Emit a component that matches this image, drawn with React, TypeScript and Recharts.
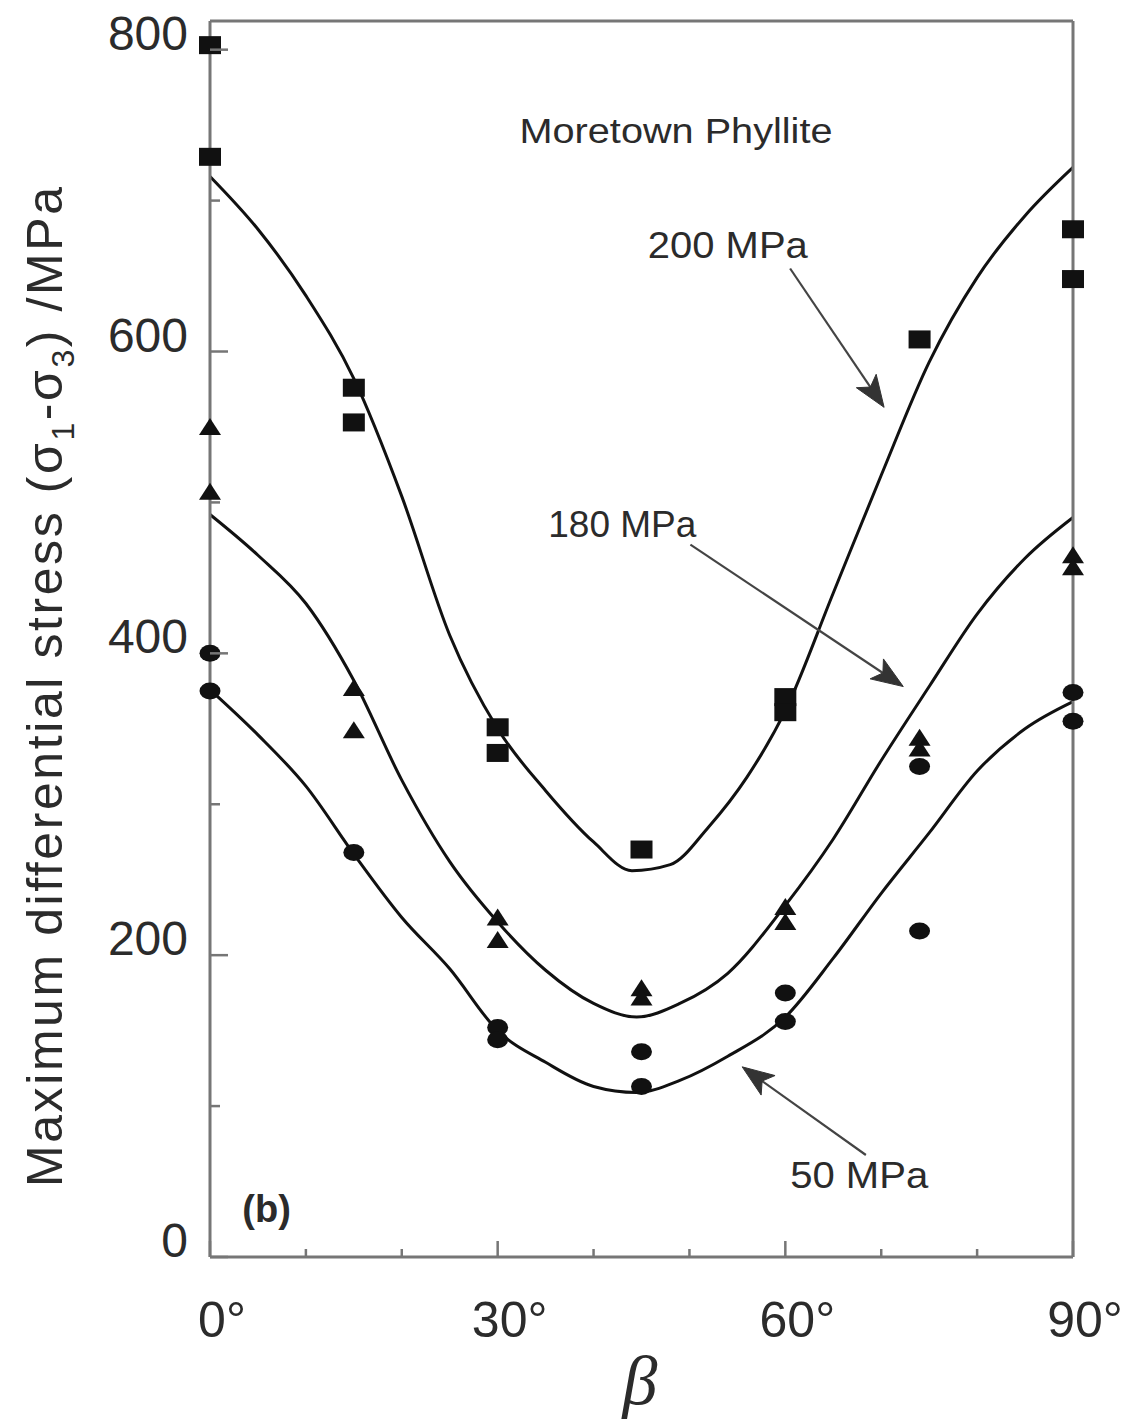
import React from "react";
import {
    ComposedChart,
    Line,
    Scatter,
    XAxis,
    YAxis,
    ReferenceDot,
    ReferenceLine,
} from "recharts";

// tick positions
const xTicks = [0, 10, 20, 30, 40, 50, 60, 70, 80, 90];
const yTicks = [0, 100, 200, 300, 400, 500, 600, 700, 800];

// measured points, 200 MPa (squares)
const sq200Deg = [0, 0, 15, 15, 30, 30, 45, 60, 60, 74, 90, 90];
const sq200Val = [803, 729, 576, 553, 351, 334, 270, 371, 361, 608, 681, 648];

// measured points, 180 MPa (triangles)
const tri180Deg = [0, 0, 15, 15, 30, 30, 45, 45, 60, 60, 74, 74, 90, 90];
const tri180Val = [550, 507, 377, 349, 225, 210, 178, 172, 232, 222, 344, 337, 465, 457];

// measured points, 50 MPa (circles)
const dot50Deg = [0, 0, 15, 30, 30, 45, 45, 60, 60, 74, 74, 90, 90];
const dot50Val = [400, 375, 268, 152, 144, 136, 113, 175, 156, 325, 216, 374, 355];

// fitted curves
const fit200Deg = [0, 5, 10, 15, 20, 25, 30, 35, 40, 44, 48, 52, 56, 60, 65, 70, 75, 80, 85, 90];
const fit200Val = [716, 681, 637, 582, 504, 412, 350, 309, 275, 256, 260, 285, 318, 362, 440, 518, 593, 649, 690, 722];

const fit180Deg = [0, 5, 10, 15, 20, 25, 30, 35, 40, 44.5, 49, 54, 60, 65, 70, 75, 80, 85, 90];
const fit180Val = [492, 465, 433, 382, 316, 262, 222, 190, 168, 159, 168, 188, 233, 277, 329, 378, 426, 463, 490];

const fit50Deg = [0, 5, 10, 15, 20, 25, 30, 35, 40, 44.5, 49, 54, 60, 65, 70, 75, 80, 85, 90];
const fit50Val = [376, 346, 312, 267, 225, 191, 150, 129, 113, 109, 117, 133, 159, 198, 241, 281, 322, 350, 368];

const zip = (deg: number[], val: number[]) => deg.map((d, i) => ({ deg: d, val: val[i] }));

const AXIS = "#767676";
const INK = "#111";
const TXT = "#2b2b2b";
const SANS = "'Liberation Sans', Arial, Helvetica, sans-serif";

const BottomTick = ({ x, y, payload }: any) => {
    const v = payload.value as number;
    const major = v % 30 === 0;
    return (
        <g>
            <line x1={x} y1={y} x2={x} y2={y - (major ? 16 : 8)} stroke={AXIS} strokeWidth={2.5} />
            {major && (
                <text x={x + 12} y={y + 80} textAnchor="middle" fontSize={50} fill={TXT} fontFamily={SANS}>
                    {`${v}°`}
                </text>
            )}
        </g>
    );
};

const TopTick = ({ x, y, payload }: any) => {
    const major = payload.value % 30 === 0;
    return <line x1={x} y1={y} x2={x} y2={y + (major ? 16 : 8)} stroke={AXIS} strokeWidth={2.5} />;
};

const LeftTick = ({ x, y, payload }: any) => {
    const v = payload.value as number;
    const major = v % 200 === 0;
    return (
        <g>
            <line x1={x} y1={y} x2={x + (major ? 18 : 10)} y2={y} stroke={AXIS} strokeWidth={2.5} />
            {major && (
                <text x={x - 22} y={y} textAnchor="end" fontSize={48} fill={TXT} fontFamily={SANS}>
                    {v}
                </text>
            )}
        </g>
    );
};

const RightTick = ({ x, y, payload }: any) => {
    const major = payload.value % 200 === 0;
    return <line x1={x} y1={y} x2={x - (major ? 18 : 10)} y2={y} stroke={AXIS} strokeWidth={2.5} />;
};

const YTitle = () => (
    <text
        transform="rotate(-90)"
        x={-687}
        y={62}
        textAnchor="middle"
        fontSize={50}
        fill={TXT}
        fontFamily={SANS}
        textLength={1000}
        lengthAdjust="spacing"
    >
        Maximum differential stress (σ
        <tspan dy={12} fontSize={32}>1</tspan>
        <tspan dy={-12}>-σ</tspan>
        <tspan dy={12} fontSize={32}>3</tspan>
        <tspan dy={-12}>) /MPa</tspan>
    </text>
);

const XTitle = () => (
    <text x={640} y={1404} textAnchor="middle" fontSize={70} fontStyle="italic" fill={TXT} fontFamily="'Liberation Serif', 'DejaVu Serif', serif">
        β
    </text>
);

const SquareDot = ({ cx, cy }: any) => <rect x={cx - 11} y={cy - 9} width={22} height={18} fill={INK} />;
const TriDot = ({ cx, cy }: any) => (
    <path d={`M${cx},${cy - 9} L${cx + 11},${cy + 8} L${cx - 11},${cy + 8} Z`} fill={INK} />
);
const RoundDot = ({ cx, cy }: any) => <ellipse cx={cx} cy={cy} rx={10.5} ry={8.5} fill={INK} />;

const note = (txt: string, size: number, width?: number, bold = false) => (p: any) => (
    <text
        x={p.cx}
        y={p.cy}
        textAnchor="middle"
        fontSize={size}
        fontWeight={bold ? 700 : 400}
        fill={TXT}
        fontFamily={SANS}
        textLength={width}
        lengthAdjust={width ? "spacingAndGlyphs" : undefined}
    >
        {txt}
    </text>
);

const Arrow = (p: any) => {
    const { x1, y1, x2, y2 } = p;
    const a = Math.atan2(y2 - y1, x2 - x1);
    const L = 34;
    const spread = 0.36;
    const w1x = x2 - L * Math.cos(a - spread);
    const w1y = y2 - L * Math.sin(a - spread);
    const w2x = x2 - L * Math.cos(a + spread);
    const w2y = y2 - L * Math.sin(a + spread);
    const nx = x2 - 0.72 * L * Math.cos(a);
    const ny = y2 - 0.72 * L * Math.sin(a);
    return (
        <g>
            <line x1={x1} y1={y1} x2={nx} y2={ny} stroke="#444" strokeWidth={2.2} />
            <path d={`M${x2},${y2} L${w1x},${w1y} L${nx},${ny} L${w2x},${w2y} Z`} fill="#333" stroke="#333" strokeWidth={1} />
        </g>
    );
};

const App: React.FC = () => {
    return (
        <div style={{ position: "absolute", left: 0, top: 0, width: 1136, height: 1424, background: "#fff" }}>
            <ComposedChart width={1136} height={1424} margin={{ top: 20, right: 62, bottom: 67, left: 150 }}>
                <XAxis
                    dataKey="deg"
                    type="number"
                    domain={[0, 90]}
                    ticks={xTicks}
                    interval={0}
                    height={100}
                    tickSize={0}
                    tickMargin={0}
                    tickLine={false}
                    axisLine={{ stroke: AXIS, strokeWidth: 3 }}
                    tick={<BottomTick />}
                    label={<XTitle />}
                />
                <XAxis
                    xAxisId="top"
                    orientation="top"
                    type="number"
                    domain={[0, 90]}
                    ticks={xTicks}
                    interval={0}
                    height={1}
                    tickSize={0}
                    tickMargin={0}
                    tickLine={false}
                    axisLine={{ stroke: AXIS, strokeWidth: 3 }}
                    tick={<TopTick />}
                />
                <YAxis
                    dataKey="val"
                    type="number"
                    domain={[0, 819]}
                    ticks={yTicks}
                    interval={0}
                    width={60}
                    tickSize={0}
                    tickMargin={0}
                    tickLine={false}
                    axisLine={{ stroke: AXIS, strokeWidth: 3 }}
                    tick={<LeftTick />}
                    label={<YTitle />}
                />
                <YAxis
                    yAxisId="right"
                    orientation="right"
                    type="number"
                    domain={[0, 819]}
                    ticks={yTicks}
                    interval={0}
                    width={1}
                    tickSize={0}
                    tickMargin={0}
                    tickLine={false}
                    axisLine={{ stroke: AXIS, strokeWidth: 3 }}
                    tick={<RightTick />}
                />

                <Line data={zip(fit200Deg, fit200Val)} dataKey="val" type="monotone" stroke={INK} strokeWidth={3} dot={false} activeDot={false} isAnimationActive={false} />
                <Line data={zip(fit180Deg, fit180Val)} dataKey="val" type="monotone" stroke={INK} strokeWidth={3} dot={false} activeDot={false} isAnimationActive={false} />
                <Line data={zip(fit50Deg, fit50Val)} dataKey="val" type="monotone" stroke={INK} strokeWidth={3} dot={false} activeDot={false} isAnimationActive={false} />

                <Scatter data={zip(sq200Deg, sq200Val)} shape={<SquareDot />} isAnimationActive={false} />
                <Scatter data={zip(tri180Deg, tri180Val)} shape={<TriDot />} isAnimationActive={false} />
                <Scatter data={zip(dot50Deg, dot50Val)} shape={<RoundDot />} isAnimationActive={false} />

                <ReferenceDot x={48.6} y={738} r={0} shape={note("Moretown Phyllite", 35, 313)} />
                <ReferenceDot x={54} y={662} r={0} shape={note("200 MPa", 37, 160)} />
                <ReferenceDot x={43} y={477} r={0} shape={note("180 MPa", 37)} />
                <ReferenceDot x={67.7} y={46} r={0} shape={note("50 MPa", 37, 138)} />
                <ReferenceDot x={5.9} y={23} r={0} shape={note("(b)", 38, undefined, true)} />

                <ReferenceLine segment={[{ x: 60.5, y: 655 }, { x: 70.3, y: 563 }]} shape={Arrow} />
                <ReferenceLine segment={[{ x: 50.1, y: 472 }, { x: 72.3, y: 378 }]} shape={Arrow} />
                <ReferenceLine segment={[{ x: 68.4, y: 67.6 }, { x: 55.5, y: 126 }]} shape={Arrow} />
            </ComposedChart>
        </div>
    );
};

export default App;
